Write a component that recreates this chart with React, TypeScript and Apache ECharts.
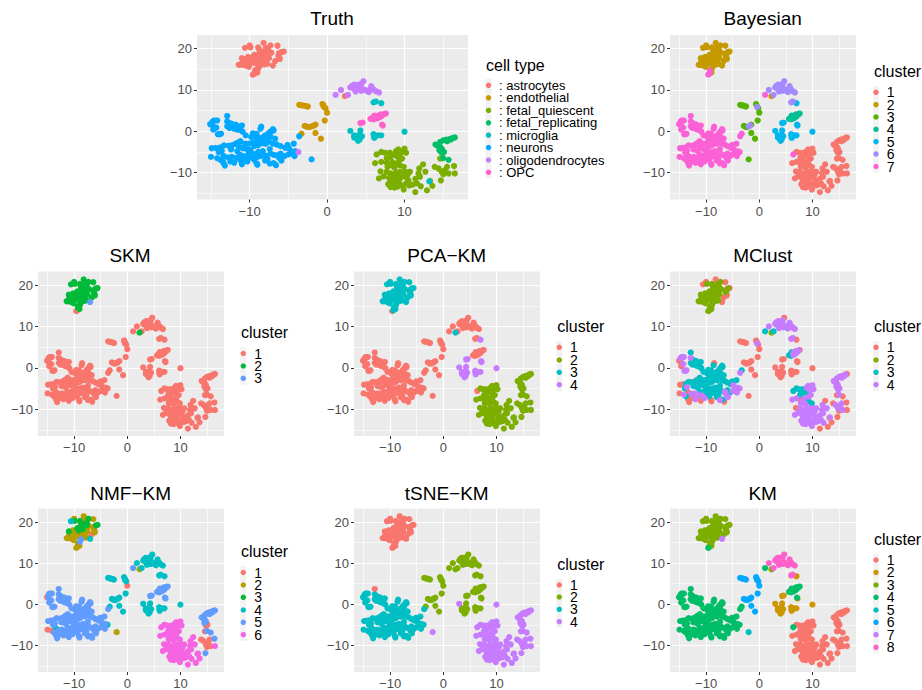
import React, { useEffect, useRef } from "react";
import * as echarts from "echarts";

type P = [number, number];

// Points, by cell type
const astrocytes: P[] = [[-10,20.8],[-10.6,20.2],[-9.9,20.3],[-8.9,20.3],[-8.2,21.4],[-7.3,20.8],[-6.4,20.7],[-8.8,19.9],[-7.9,20.2],[-7.6,19.8],[-5.6,19.3],[-5.9,19.2],[-6.2,18.9],[-6.2,18.0],[-6.1,17.5],[-6.7,17.0],[-7.0,15.9],[-6.3,18.3],[-7.2,19.0],[-7.6,19.2],[-8.0,19.5],[-8.3,19.1],[-8.6,19.4],[-8.9,18.6],[-8.4,18.3],[-8.0,18.1],[-7.8,18.7],[-9.1,18.0],[-9.4,18.5],[-9.6,17.9],[-9.9,17.6],[-9.3,17.3],[-8.8,17.4],[-8.3,17.0],[-7.9,17.5],[-7.5,17.7],[-10.2,18.0],[-10.4,17.5],[-11.0,17.7],[-10.9,16.9],[-10.5,16.8],[-10.0,16.7],[-9.6,16.6],[-9.1,16.4],[-11.4,16.1],[-11.0,16.1],[-10.5,15.9],[-10.1,15.6],[-8.7,15.8],[-8.5,16.4],[-8.1,16.2],[-8.9,15.2],[-9.2,14.9],[-9.3,14.6],[-9.0,14.2],[-9.4,13.9],[-9.6,13.7],[-7.7,16.3],[2.3,8.5]];
const endothelial: P[] = [[-3.6,6.4],[-3.3,6.3],[-3.0,6.2],[-2.7,6.1],[-2.5,6.0],[-0.6,6.6],[-0.5,6.3],[-0.4,5.9],[-0.2,5.6],[0,4.5],[-0.3,2.6],[-2.9,1.3],[-2.6,1.1],[-2.3,1.0],[-2.0,1.2],[-1.7,1.4],[-1.5,1.6],[-3.3,-0.6],[-1.5,-0.4],[-0.8,-1.8],[10.8,-12.9]];
const fetalQuiescent: P[] = [[7,-5],[6.4,-5.6],[7.5,-5.2],[7.7,-6.5],[6.2,-7.7],[7,-7.4],[8.2,-6.2],[8.7,-5.6],[9.2,-4.4],[10,-4.2],[10.2,-5.2],[9.5,-5.4],[9,-6],[9.7,-6.6],[8.4,-7.4],[7.7,-7.6],[8.7,-8.8],[9,-7.8],[6.9,-9.7],[7.7,-9.8],[6.7,-11.4],[7.3,-10.9],[8.2,-10.2],[8.6,-11],[9.4,-9.8],[10.1,-9.8],[10.7,-9.8],[8.2,-12.3],[8.8,-11.9],[9.4,-11.5],[10.1,-11],[8.2,-13.5],[8.7,-13.6],[9.4,-12.8],[9.9,-14.1],[9,-12.7],[11.4,-14.7],[12.1,-13.3],[12.9,-14.3],[13.3,-12],[13.6,-13.2],[11.4,-11.5],[11.8,-10.2],[12.4,-8],[11.9,-9],[12.7,-9.8],[12,-11],[11.1,-12.9],[10.5,-11.9],[7.8,-8.6],[9.4,-8.2],[9.9,-8.6],[8.4,-13.1],[7.9,-12.8],[13.9,-8.6],[14.4,-9],[14.8,-9.8],[15.2,-9.4],[15.5,-8.6],[15.7,-10.2],[16.5,-10.2],[14.7,-11.9],[15,-10.4],[14.6,-6.6],[16.4,-8.4],[9.6,-10.5],[10.4,-10.6],[9.2,-10.8],[8.9,-10],[8,-11.3],[9.1,-13.4],[10.6,-13.1],[10.2,-12.6],[11.6,-12.6],[9.8,-13.3],[8.3,-8.2],[8.1,-5.2],[9.7,-4.9],[8.9,-4.8],[9.3,-7]];
const fetalReplicating: P[] = [[14,-3.2],[14.3,-3.5],[14.6,-3.8],[14.6,-2.6],[15,-2.2],[15.4,-2],[15.8,-1.9],[16.2,-1.6],[16.5,-1.5],[14.8,-4.2],[15.1,-5],[14.8,-5.2],[14.5,-4.6],[15,-6.5],[15.7,-6.9],[15.5,-2.4],[16,-2]];
const microglia: P[] = [[6.0,7.0],[6.3,7.2],[7.0,6.8],[3.0,0.1],[4.3,0.2],[3.5,-1.0],[3.9,-1.1],[4.2,-0.8],[3.5,-1.5],[3.9,-1.7],[4.2,-2.0],[4.5,-1.2],[4.0,-2.3],[6,-0.7],[6.1,-1.1],[6.1,-1.6],[6.1,-1.3],[6.6,-1.0],[7,-1.0],[10,-0.1],[13.2,-12.1]];
const neurons: P[] = [[-15.1,1.7],[-14.8,2.3],[-14.6,2.6],[-14.2,2.6],[-14.8,1.5],[-14.7,0.4],[-14.3,0.9],[-14.1,-0.7],[-13.9,-0.7],[-13.7,-0.6],[-12.9,3.7],[-12.9,2.4],[-12.6,2.0],[-12.3,1.8],[-12.9,1.2],[-12.6,0.8],[-12.2,1.2],[-11.8,1.6],[-11.4,1.1],[-11.0,1.4],[-12.0,0.6],[-11.6,0.4],[-11.2,0.3],[-10.9,-0.1],[-10.5,-1.0],[-8.5,1.1],[-8.6,0.6],[-7.3,-0.1],[-7.0,0.5],[-7.2,0.0],[-6.9,0.2],[-7.6,-0.5],[-8,-1],[-9.4,-1.1],[-9.8,-1.4],[-9.1,-0.6],[-9.6,-0.5],[-8.8,-1.6],[-8.3,-1.5],[-7.8,-1.8],[-7.3,-1.3],[-6.7,-1.8],[-9.1,-2.3],[-8.5,-2.5],[-9.6,-2.7],[-10.1,-3],[-10.6,-3],[-11.2,-2.4],[-11.6,-2.8],[-11.9,-3.1],[-12.3,-3.4],[-12.7,-3.5],[-13.3,-3.4],[-13.8,-3.9],[-14.4,-4.0],[-14.9,-4.1],[-12.4,-4.4],[-11.6,-4.8],[-11.4,-3.6],[-10.9,-4.1],[-10.4,-4.3],[-9.9,-4.5],[-9.4,-3.6],[-8.9,-3.4],[-8.3,-2.9],[-7.9,-3.0],[-7.5,-2.5],[-7.0,-3.0],[-6.5,-3.2],[-6.0,-3.6],[-7.4,-4.3],[-8.3,-4.8],[-8.9,-5],[-9.5,-5.5],[-10.1,-5.2],[-10.7,-6],[-11.2,-5.7],[-11.7,-6.4],[-12.3,-6.2],[-12.8,-6.3],[-13.4,-5.9],[-14.0,-5.0],[-13.6,-4.7],[-15,-6.2],[-14.2,-6.5],[-13.8,-6.9],[-13.5,-7.0],[-13.4,-7.6],[-13.2,-8.3],[-12.5,-7.3],[-11.2,-7.0],[-10.8,-6.7],[-10.5,-7.0],[-10.2,-6.2],[-9.7,-6.4],[-9.4,-6.9],[-9.0,-6.2],[-8.5,-6.0],[-7.9,-5.9],[-7.3,-5.4],[-6.9,-5.7],[-6.5,-5.8],[-6.2,-6.4],[-6.0,-5.4],[-9.1,-7.8],[-9.0,-8.1],[-10.3,-7.3],[-11.0,-8.0],[-7.4,-7.8],[-6.9,-7.7],[-6.6,-8.2],[-5.9,-7.1],[-5.5,-6.0],[-5.4,-4.0],[-5.1,-3.3],[-4.9,-4.2],[-4.6,-4.9],[-4.4,-5.5],[-4.2,-6.0],[-5.0,-5.6],[-4.3,-3.0],[-4.1,-4.8],[-3.6,-1.2],[-2.0,-6.8],[-8,-7.1],[-7.7,-6.7],[-12,-7.6]];
const oligodendrocytes: P[] = [[1.1,8.8],[1.8,10],[2.7,8.8],[3.0,10.6],[3.2,11],[3.5,10.2],[3.7,9.6],[3.9,11.2],[4.1,10.7],[4.4,11.5],[4.7,12.1],[4.5,10.4],[4.9,10],[5.2,9.7],[5.6,10.2],[5.7,10.9],[6.0,10.1],[6.3,9.7],[6.7,9.4],[3.5,11.3],[4.4,9.8],[5.4,9.5],[-3.7,-5.0]];
const opc: P[] = [[4.3,2.0],[4.6,2.1],[5.6,3.0],[5.8,3.2],[6,2.9],[6.2,3.4],[6.4,3.1],[6.5,3.7],[6.7,3.3],[6.8,3.9],[7,3.6],[7.2,4.0],[7.4,4.2],[7.6,4.3],[6.1,3.8],[6.9,4.1],[7.1,1.6],[7.2,1.4]];

const cellTypeGroups = [astrocytes, endothelial, fetalQuiescent, fetalReplicating, microglia, neurons, oligodendrocytes, opc];
const cellTypeLabels = [": astrocytes", ": endothelial", ": fetal_quiescent", ": fetal_replicating", ": microglia", ": neurons", ": oligodendrocytes", ": OPC"];

// Tick labels
const xTicks = [-10, 0, 10];
const xMinor = [-15, -5, 5, 15];
const yTicks = [-10, 0, 10, 20];
const yMinor = [-15, -5, 5, 15];

// Palettes (ggplot hue)
const hue3 = ["#F8766D", "#00BA38", "#619CFF"];
const hue4 = ["#F8766D", "#7CAE00", "#00BFC4", "#C77CFF"];
const hue6 = ["#F8766D", "#B79F00", "#00BA38", "#00BFC4", "#619CFF", "#F564E3"];
const hue7 = ["#F8766D", "#C49A00", "#53B400", "#00C094", "#00B6EB", "#A58AFF", "#FB61D7"];
const hue8 = ["#F8766D", "#CD9600", "#7CAE00", "#00BE67", "#00BFC4", "#00A9FF", "#C77CFF", "#FF61CC"];

// Cluster of each cell type in each panel, then the points that differ: [x, y, cluster]
const truthMap = [1, 2, 3, 4, 5, 6, 7, 8];
const bayesianMap = [2, 3, 1, 1, 5, 7, 6, 4];
const bayesianDiff = [[-9.4,13.9,7],[-9.6,13.7,7],[-9.3,14.6,7],[1.1,8.8,7],[-0.4,5.9,6],[-2.0,1.2,6],[-1.7,1.4,6],[-3.3,-0.6,7],[-2.0,-6.8,3],[6,7,6],[6.3,7.2,6],[4.3,2,5],[4.6,2.1,5],[7.1,1.6,5],[7.2,1.4,5],[6.4,-5.6,7],[10.8,-12.9,1],[13.2,-12.1,1],[-3.7,-5,7]];
const skmMap = [2, 1, 1, 1, 1, 1, 1, 1];
const skmDiff = [[-9.6,13.7,1],[-9.4,13.9,1],[-7.0,15.9,3],[2.3,8.5,2]];
const pcaMap = [3, 1, 2, 2, 4, 1, 1, 1];
const pcaDiff = [[-9.6,13.7,1],[6,7,1],[6.3,7.2,1],[4.3,2,4],[4.6,2.1,4],[7.1,1.6,4],[7.2,1.4,4],[13.2,-12.1,2],[10.8,-12.9,2],[6.4,-5.6,1],[-3.7,-5,1]];
const mclustMap = [2, 1, 4, 4, 1, 3, 4, 4];
const mclustDiff = [[-10,20.8,1],[-10.6,20.2,1],[-8.2,21.4,1],[-6.4,20.7,1],[-6.2,18.9,1],[-6.2,18,1],[-6.1,17.5,1],[-6.7,17,1],[-7,15.9,1],[-5.6,19.3,1],[1.1,8.8,3],[2.7,8.8,3],[4.7,12.1,1],[5.2,9.7,3],[4.9,10,3],[3.5,10.2,3],[6,7,4],[6.3,7.2,4],[-0.4,5.9,4],[4.3,2,1],[4.6,2.1,1],[5.6,3,3],[5.8,3.2,3],[6,2.9,3],[6.1,3.8,3],[6.2,3.4,3],[7.6,4.3,1],[7.1,1.6,1],[7.2,1.4,1],[-3.3,-0.6,3],[-15.1,1.7,1],[-14.8,2.3,4],[-14.6,2.6,4],[-14.2,2.6,4],[-14.8,1.5,1],[-14.7,0.4,1],[-14.3,0.9,4],[-14.1,-0.7,4],[-13.9,-0.7,4],[-13.7,-0.6,4],[-12.9,2.4,4],[-8.5,1.1,1],[-14.9,-4.1,1],[-14.4,-4,1],[-15,-6.2,1],[-14.2,-6.5,4],[-13.5,-7,1],[-13.4,-7.6,1],[-13.2,-8.3,1],[-13.4,-5.9,1],[-13.6,-4.7,4],[-12.3,-3.4,1],[-11.6,-2.8,1],[-12.3,-6.2,4],[-11.7,-6.4,4],[-12.8,-6.3,4],[-12.5,-7.3,1],[-12,-7.6,4],[-11.2,-7,1],[-11,-8,1],[-10.3,-7.3,4],[-10.8,-6.7,4],[-9.1,-7.8,1],[-9,-8.1,1],[-7.4,-7.8,4],[-6.6,-8.2,1],[-6.5,-5.8,4],[-6.2,-6.4,4],[-5.9,-7.1,4],[-4.9,-4.2,4],[-4.6,-4.9,4],[-4.4,-5.5,4],[-4.2,-6,4],[-5,-5.6,4],[-4.1,-4.8,4],[-3.6,-1.2,4],[-2,-6.8,1],[6.4,-5.6,3],[7,-5,3],[7.5,-5.2,3],[7.7,-6.5,3],[8.2,-6.2,3],[8.7,-5.6,3],[9,-6,3],[9,-7.8,3],[9.4,-8.2,3],[9.9,-8.6,3],[8.1,-5.2,3],[6.9,-9.7,1],[7.7,-7.6,1],[11.4,-14.7,1],[12.9,-14.3,1],[13.6,-13.2,1],[12.4,-8,1],[13.9,-8.6,1],[14.6,-6.6,1],[15.7,-6.9,1],[16.4,-8.4,1],[16.5,-10.2,1],[14.7,-11.9,1],[15,-10.4,1],[16.5,-1.5,1]];
const nmfMap = [2, 4, 6, 5, 4, 5, 4, 5];
const nmfDiff = [[-10.6,20.2,4],[-7,15.9,4],[-6.7,17,1],[-8.7,15.8,5],[-8.9,15.2,5],[-11,17.7,3],[-8.9,20.3,3],[-9.9,20.3,3],[-7.3,20.8,3],[-8.8,18.6,3],[-9.4,18.5,3],[-8.4,18.3,3],[-8.6,19.4,3],[-8,19.5,3],[-9.1,18,3],[-7.6,19.2,3],[-5.9,19.2,3],[-5.6,19.3,3],[-7.6,19.8,3],[1.1,8.8,5],[0,4.5,1],[-2,-6.8,2],[-15.1,1.7,1],[-15,-6.2,1],[-14.2,-6.5,1],[-13.4,-5.9,4],[13.9,-8.6,1],[14.4,-9,1],[14.8,-9.8,1],[15.2,-9.4,1],[15.5,-8.6,1],[15,-10.4,1],[15.7,-10.2,1],[16.5,-10.2,6],[14.7,-11.9,5],[14.6,-6.6,1],[14.8,-5.2,1],[15.1,-5,1],[16.4,-8.4,5],[15.7,-6.9,5],[13.2,-12.1,6],[10.8,-12.9,6]];
const tsneMap = [1, 2, 4, 4, 2, 3, 2, 2];
const tsneDiff = [[-12.9,3.7,1],[-2,-6.8,4],[3,0.1,4],[10,-0.1,4],[10.8,-12.9,4],[13.2,-12.1,4],[-3.7,-5,3],[2.3,8.5,2]];
const kmMap = [3, 6, 1, 1, 2, 4, 8, 4];
const kmDiff = [[-7,15.9,7],[-9.6,13.7,4],[1.1,8.8,4],[6,7,8],[6.3,7.2,8],[7,6.8,2],[4.3,2,2],[4.6,2.1,2],[7.1,1.6,4],[7.2,1.4,2],[-2,-6.8,5],[6.4,-5.6,4],[-3.3,-0.6,4],[-3.7,-5,4],[10.8,-12.9,1],[13.2,-12.1,1]];

// Layout of the panels, in pixels
const panels = [
  { title: "Truth", left: 197, top: 35, width: 271, titleX: 332, titleY: 18, map: truthMap, diff: [], colors: hue8, legendTitle: "cell type", legendX: 486, keyX: 488.5, textX: 499, titleYL: 65, rows: [85.3, 97.8, 110.4, 122.8, 135.2, 147.6, 160, 172.3], labels: cellTypeLabels, fs: 13 },
  { title: "Bayesian", left: 670, top: 35, width: 186, titleX: 762.7, titleY: 18, map: bayesianMap, diff: bayesianDiff, colors: hue7, legendTitle: "cluster", legendX: 874, keyX: 876, textX: 886.7, titleYL: 71, rows: [92.3, 104.7, 117, 129.3, 141.7, 154, 166.5], fs: 14 },
  { title: "SKM", left: 38, top: 271.5, width: 186, titleX: 130, titleY: 255, map: skmMap, diff: skmDiff, colors: hue3, legendTitle: "cluster", legendX: 241, keyX: 243.3, textX: 254.3, titleYL: 332.7, rows: [353.5, 366, 378.3], fs: 14 },
  { title: "PCA\u2212KM", left: 354, top: 271.5, width: 186, titleX: 446.7, titleY: 255, map: pcaMap, diff: pcaDiff, colors: hue4, legendTitle: "cluster", legendX: 557.3, keyX: 559.3, textX: 570, titleYL: 326, rows: [347.3, 360, 372.3, 384.7], fs: 14 },
  { title: "MClust", left: 670, top: 271.5, width: 186, titleX: 762.7, titleY: 255, map: mclustMap, diff: mclustDiff, colors: hue4, legendTitle: "cluster", legendX: 874, keyX: 876, textX: 886.7, titleYL: 326, rows: [347.3, 360, 372.3, 384.7], fs: 14 },
  { title: "NMF\u2212KM", left: 38, top: 508.5, width: 186, titleX: 130.7, titleY: 493, map: nmfMap, diff: nmfDiff, colors: hue6, legendTitle: "cluster", legendX: 241, keyX: 243.3, textX: 254.3, titleYL: 551, rows: [572.5, 585, 597.3, 610, 622.3, 634.7], fs: 14 },
  { title: "tSNE\u2212KM", left: 354, top: 508.5, width: 186, titleX: 446.7, titleY: 493, map: tsneMap, diff: tsneDiff, colors: hue4, legendTitle: "cluster", legendX: 557.3, keyX: 559.3, textX: 570, titleYL: 564, rows: [585, 597, 609.3, 621.7], fs: 14 },
  { title: "KM", left: 670, top: 508.5, width: 186, titleX: 762.7, titleY: 493, map: kmMap, diff: kmDiff, colors: hue8, legendTitle: "cluster", legendX: 874, keyX: 876, textX: 886.7, titleYL: 539, rows: [560, 572.4, 585, 597.3, 610, 622.3, 634.7, 647.3], fs: 14 },
] as any[];

const PANEL_H = 164.5;
const X_RANGE = [-16.8, 18.2];
const Y_RANGE = [-16.5, 23.3];
const FONT = "'Liberation Sans', Arial, sans-serif";
const signed = (v: number) => String(v).replace("-", "\u2212");

function clusterPoints(p: any): Map<number, P[]> {
  const all: { pt: P; c: number }[] = [];
  cellTypeGroups.forEach((g, gi) => g.forEach((pt) => all.push({ pt, c: p.map[gi] })));
  (p.diff as number[][]).forEach(([x, y, c]) => {
    let best = all[0], bd = Infinity;
    for (const a of all) {
      const d = (a.pt[0] - x) ** 2 + (a.pt[1] - y) ** 2;
      if (d < bd) { bd = d; best = a; }
    }
    best.c = c;
  });
  const out = new Map<number, P[]>();
  all.forEach(({ pt, c }) => { if (!out.has(c)) out.set(c, []); out.get(c)!.push(pt); });
  return out;
}

function buildOption() {
  const grid: any[] = [], xAxis: any[] = [], yAxis: any[] = [], series: any[] = [], title: any[] = [], graphic: any[] = [];
  panels.forEach((p, i) => {
    grid.push({ left: p.left, top: p.top, width: p.width, height: PANEL_H, show: true, backgroundColor: "#EBEBEB", borderWidth: 0 });
    const noLine = { show: false, onZero: false };
    const minorAxis = (ticks: number[], range: number[]) => ({
      type: "value", gridIndex: i, min: range[0], max: range[1], axisLine: noLine,
      axisTick: { show: false, customValues: ticks }, axisLabel: { show: false, customValues: ticks },
      splitLine: { show: true, lineStyle: { color: "#FFFFFF", width: 0.6 } },
    });
    const majorAxis = (ticks: number[], range: number[]) => ({
      type: "value", gridIndex: i, min: range[0], max: range[1], axisLine: noLine,
      axisTick: { show: true, length: 3, customValues: ticks, lineStyle: { color: "#333333", width: 1 } },
      axisLabel: { show: true, customValues: ticks, color: "#4D4D4D", fontSize: 13, fontFamily: FONT, margin: 5, formatter: signed, hideOverlap: false },
      splitLine: { show: true, lineStyle: { color: "#FFFFFF", width: 1.2 } },
    });
    xAxis.push(majorAxis(xTicks, X_RANGE), minorAxis(xMinor, X_RANGE));
    yAxis.push(majorAxis(yTicks, Y_RANGE), minorAxis(yMinor, Y_RANGE));

    const byCluster = clusterPoints(p);
    [...byCluster.keys()].sort((a, b) => a - b).forEach((c) => {
      series.push({
        type: "scatter", name: `${p.title} ${c}`, xAxisIndex: 2 * i, yAxisIndex: 2 * i,
        symbol: "circle", symbolSize: 6.2, itemStyle: { color: p.colors[c - 1], opacity: 1 },
        data: byCluster.get(c), silent: true, z: 5,
      });
    });

    title.push({
      text: p.title, left: p.titleX, top: p.titleY - 9, padding: 0, textAlign: "center",
      textStyle: { fontSize: 19, fontWeight: "normal", color: "#000000", fontFamily: FONT },
    });
    graphic.push({
      type: "text", x: p.legendX, y: p.titleYL, silent: true,
      style: { text: p.legendTitle, fontSize: 16, fill: "#000000", fontFamily: FONT, textVerticalAlign: "middle" },
    });
    const rows: number[] = p.rows;
    const step = rows[1] - rows[0];
    graphic.push({
      type: "rect", silent: true, shape: { x: p.keyX - 3, y: rows[0] - step / 2, width: 6, height: rows[rows.length - 1] - rows[0] + step },
      style: { fill: "#F2F2F2" },
    });
    rows.forEach((y, k) => {
      graphic.push({ type: "circle", silent: true, shape: { cx: p.keyX, cy: y, r: 2.7 }, style: { fill: p.colors[k] } });
      graphic.push({
        type: "text", x: p.textX, y, silent: true,
        style: { text: p.labels ? p.labels[k] : String(k + 1), fontSize: p.fs, lineHeight: 12, fill: "#000000", fontFamily: FONT, textVerticalAlign: "middle" },
      });
    });
  });
  return { animation: false, backgroundColor: "#FFFFFF", title, grid, xAxis, yAxis, series, graphic: { elements: graphic }, tooltip: { show: false } };
}

export default function App() {
  const ref = useRef<HTMLDivElement>(null);
  useEffect(() => {
    const chart = echarts.init(ref.current!, undefined, { renderer: "svg" });
    chart.setOption(buildOption());
    return () => chart.dispose();
  }, []);
  return <div ref={ref} style={{ position: "absolute", left: 0, top: 0, width: 922, height: 690 }} />;
}
